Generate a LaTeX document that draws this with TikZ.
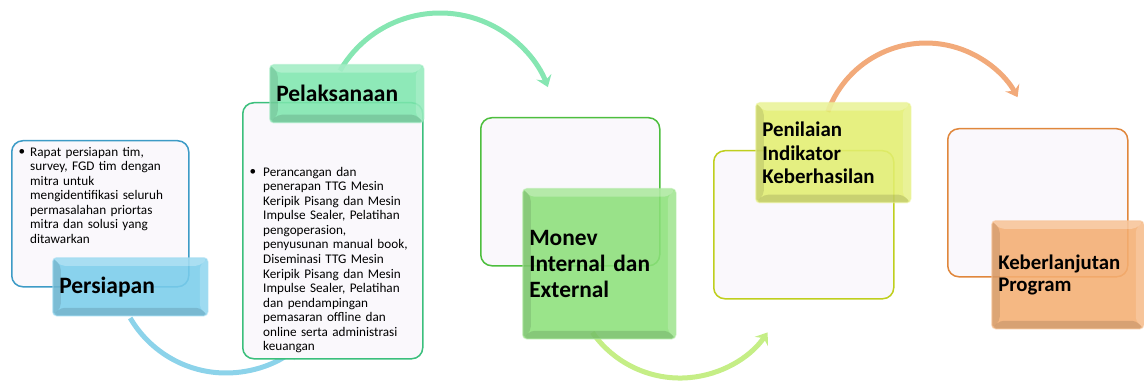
\documentclass[tikz,border=0pt]{standalone}
\usepackage{fontspec}
\setmainfont{Carlito}
\usetikzlibrary{arrows.meta}
\definecolor{boxfill}{HTML}{FAF8FC}
\definecolor{cBlueB}{HTML}{3D9BC6}
\definecolor{cBlueL}{HTML}{7ACDEB}
\definecolor{cBlueA}{HTML}{8CD3EA}
\definecolor{cMintB}{HTML}{3BBF7C}
\definecolor{cMintL}{HTML}{7EE6AE}
\definecolor{cMintA}{HTML}{86E6B2}
\definecolor{cGreenB}{HTML}{4DBE3E}
\definecolor{cGreenL}{HTML}{8CE07A}
\definecolor{cLimeA}{HTML}{C5EE86}
\definecolor{cYelB}{HTML}{BFCF1E}
\definecolor{cYelL}{HTML}{E2EE70}
\definecolor{cOrA}{HTML}{F2AA7A}
\definecolor{cOrB}{HTML}{E0873C}
\definecolor{cOrL}{HTML}{F4AE72}
\newcommand\lblbevel{%
 \path (path picture bounding box.north west) coordinate (bNW)
       (path picture bounding box.north east) coordinate (bNE)
       (path picture bounding box.south west) coordinate (bSW)
       (path picture bounding box.south east) coordinate (bSE);
 \fill[white,fill opacity=0.28] (bNW) -- (bNE) -- ([shift={(-8pt,-8pt)}]bNE) -- ([shift={(8pt,-8pt)}]bNW) -- cycle;
 \fill[black,fill opacity=0.10] (bNW) -- ([shift={(8pt,-8pt)}]bNW) -- ([shift={(8pt,8pt)}]bSW) -- (bSW) -- cycle;
 \fill[white,fill opacity=0.18] (bNE) -- (bSE) -- ([shift={(-8pt,8pt)}]bSE) -- ([shift={(-8pt,-8pt)}]bNE) -- cycle;
 \fill[black,fill opacity=0.12] (bSW) -- ([shift={(8pt,8pt)}]bSW) -- ([shift={(-8pt,8pt)}]bSE) -- (bSE) -- cycle;
}
\tikzset{
 txtbox/.style={draw=#1, line width=1.5pt, fill=boxfill, rounded corners=11pt,
   inner sep=0pt, anchor=north west},
 lbl/.style={fill=#1, fill opacity=0.88, text opacity=1, draw=#1!70!white,
   draw opacity=0.5, line width=1.5pt, rounded corners=4pt, anchor=north west,
   inner xsep=6.5pt, inner ysep=0pt, align=left, path picture={\lblbevel}},
 bodytxt/.style={anchor=north west, inner sep=0pt, align=left,
   font=\fontsize{13.2}{14.55}\selectfont},
 bul/.style={anchor=base, inner sep=0pt, font=\fontsize{13.2}{14.55}\selectfont},
 flowarc/.style={draw=#1, line width=5pt, -{Stealth[length=11pt,width=16pt,inset=4pt]}}
}
\begin{document}
\begin{tikzpicture}[x=1pt,y=1pt]
\useasboundingbox (0,0) rectangle (1144,-385);

% blue arc
\coordinate (s1) at (130.2,-318);
\draw[flowarc=cBlueA] (s1) arc[start angle=210.3, end angle=310, radius=111pt];

% step 1
\node[txtbox=cBlueB, minimum width=177pt, minimum height=146pt] (box1) at (11,-140) {};
\node[bul] (b1) at (22,-156) {\textbullet};
\node[bodytxt, text width=160pt] (t1) at (30,-145) {\rule{0pt}{11pt}Rapat persiapan tim,\\
survey, FGD tim dengan\\ mitra untuk\\ mengidentifikasi seluruh\\
permasalahan priortas\\ mitra dan solusi yang\\ ditawarkan};
\node[lbl=cBlueL, minimum width=155pt, minimum height=58pt, text width=142pt,
  font=\fontsize{23.5}{26}\selectfont\bfseries] (l1) at (52,-257) {Persiapan};

% green top arc
\coordinate (s2) at (340,-70.75);
\draw[flowarc=cMintA] (s2) arc[start angle=150, end angle=21, radius=115.5pt];

% step 2
\node[txtbox=cMintB, minimum width=180pt, minimum height=256pt] (box2) at (242,-102) {};
\node[bul] (b2) at (253,-176) {\textbullet};
\node[bodytxt, text width=160pt] (t2) at (263,-165) {\rule{0pt}{11pt}Perancangan dan\\
penerapan TTG Mesin\\ Keripik Pisang dan Mesin\\ Impulse Sealer, Pelatihan\\
pengoperasion,\\ penyusunan manual book,\\ Diseminasi TTG Mesin\\
Keripik Pisang dan Mesin\\ Impulse Sealer, Pelatihan\\ dan pendampingan\\
pemasaran offline dan\\ online serta administrasi\\ keuangan};
\node[lbl=cMintL, minimum width=154pt, minimum height=58pt, text width=141pt,
  font=\fontsize{23.5}{26}\selectfont\bfseries] (l2) at (269,-64) {Pelaksanaan};

% step 3
\node[txtbox=cGreenB, minimum width=179pt, minimum height=148pt] (box3) at (480,-117) {};
\coordinate (s3) at (592.35,-332.4);
\draw[flowarc=cLimeA] (s3) arc[start angle=215, end angle=325, radius=107pt];
\node[lbl=cGreenL, minimum width=153pt, minimum height=150pt, text width=140pt,
  font=\fontsize{23.4}{26}\selectfont\bfseries] (l3) at (522,-188) {Monev\\ Internal dan\\ External};

% step 4
\node[txtbox=cYelB, minimum width=180pt, minimum height=148pt] (box4) at (713,-150) {};
\coordinate (s4) at (827.8,-111.8);
\draw[flowarc=cOrA] (s4) arc[start angle=160, end angle=28.8, radius=104.5pt];
\node[lbl=cYelL, minimum width=155pt, minimum height=100pt, text width=142pt,
  font=\fontsize{20.9}{23.5}\selectfont\bfseries] (l4) at (755,-102) {Penilaian\\ Indikator\\ Keberhasilan};

% step 5
\node[txtbox=cOrB, minimum width=180pt, minimum height=148pt] (box5) at (947,-128) {};
\node[lbl=cOrL, minimum width=152pt, minimum height=108pt, text width=139pt,
  font=\fontsize{20.8}{22}\selectfont\bfseries] (l5) at (991,-220) {Keberlanjutan\\ Program};
\end{tikzpicture}
\end{document}
